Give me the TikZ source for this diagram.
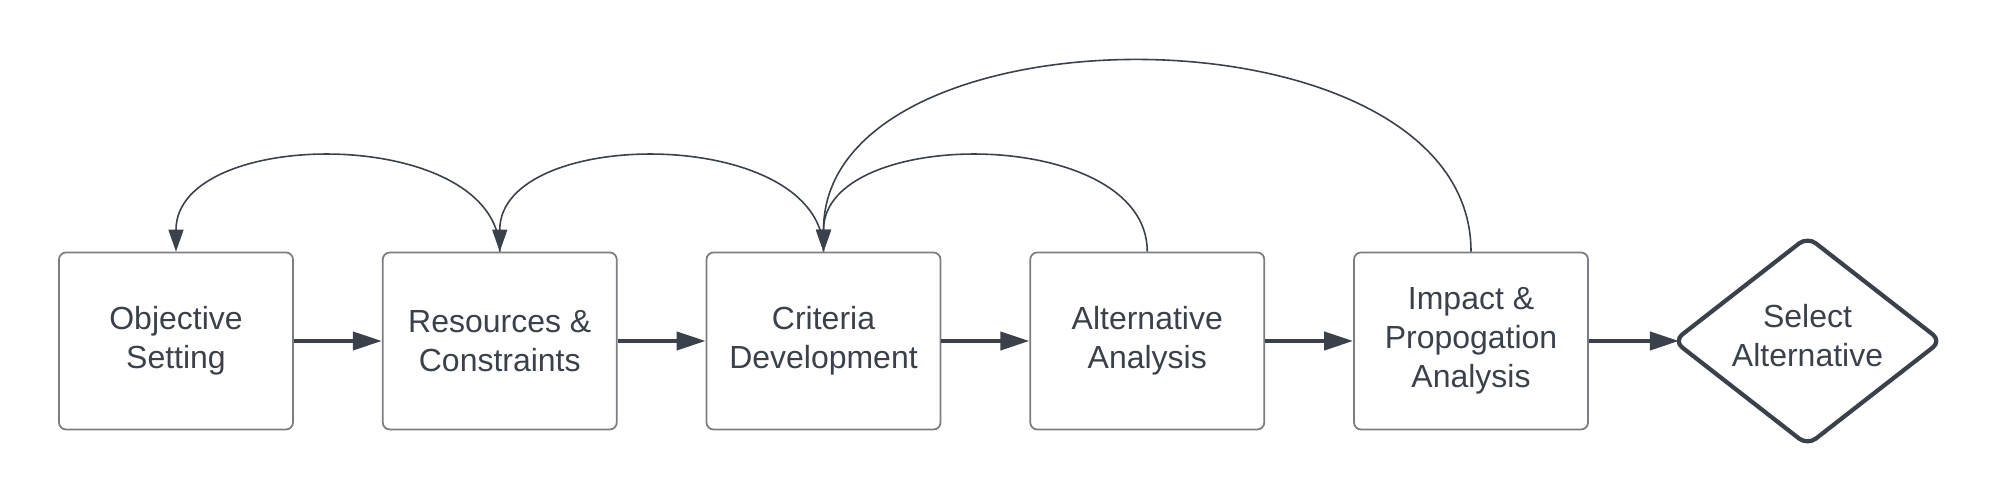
\documentclass[tikz,border=0pt]{standalone}
\usepackage{fontspec}
\setmainfont{Liberation Sans}
\usepackage{xcolor}
\usetikzlibrary{positioning,shapes.geometric,arrows.meta}
\definecolor{ink}{HTML}{3A414A}
\definecolor{frame}{HTML}{7A7D82}

\begin{document}
\begin{tikzpicture}[
        stepbox/.style={draw=frame,line width=0.5pt,rounded corners=2pt,
            minimum width=2.34cm,minimum height=1.77cm,inner sep=0pt,
            align=center,text=ink,font=\fontsize{9.1}{11.1}\selectfont},
        choice/.style={diamond,draw=ink,line width=1.2pt,rounded corners=3pt,
            aspect=1.28,minimum width=2.69cm,minimum height=2.1cm,inner sep=0pt,
            text=ink,font=\fontsize{9.1}{11.1}\selectfont},
        flow/.style={draw=ink,line width=1.15pt,-{Triangle[length=2.9mm,width=1.8mm]}},
        back/.style={draw=ink,line width=0.45pt,-{Triangle[length=2.2mm,width=1.5mm]},
            out=90,in=90,looseness=1},
        node distance=0.88cm]
        % Cadre
            \useasboundingbox (0,0) rectangle (19.99,5.03);
        % Etapes
            \node[stepbox] (obj) at (1.76,1.62) {Objective\\Setting};
            \node[stepbox,right=of obj] (res) {Resources \&\\Constraints};
            \node[stepbox,right=of res] (crit) {Criteria\\Development};
            \node[stepbox,right=of crit] (alt) {Alternative\\Analysis};
            \node[stepbox,right=of alt] (imp) {Impact \&\\Propogation\\Analysis};
            \node[choice,right=0.82cm of imp] (sel)
                {\raisebox{0.5pt}[\height][\depth]{\begin{tabular}{@{}c@{}}Select\\Alternative\end{tabular}}};
        % Fleches
            \draw[flow] (obj) -- (res);
            \draw[flow] (res) -- (crit);
            \draw[flow] (crit) -- (alt);
            \draw[flow] (alt) -- (imp);
            \draw[flow,shorten >=-0.8mm] (imp) -- (sel);
        % Retours
            \draw[back] (res.north) to (obj.north);
            \draw[back] (crit.north) to (res.north);
            \draw[back] (alt.north) to (crit.north);
            \draw[back] (imp.north) to (crit.north);
\end{tikzpicture}
\end{document}
